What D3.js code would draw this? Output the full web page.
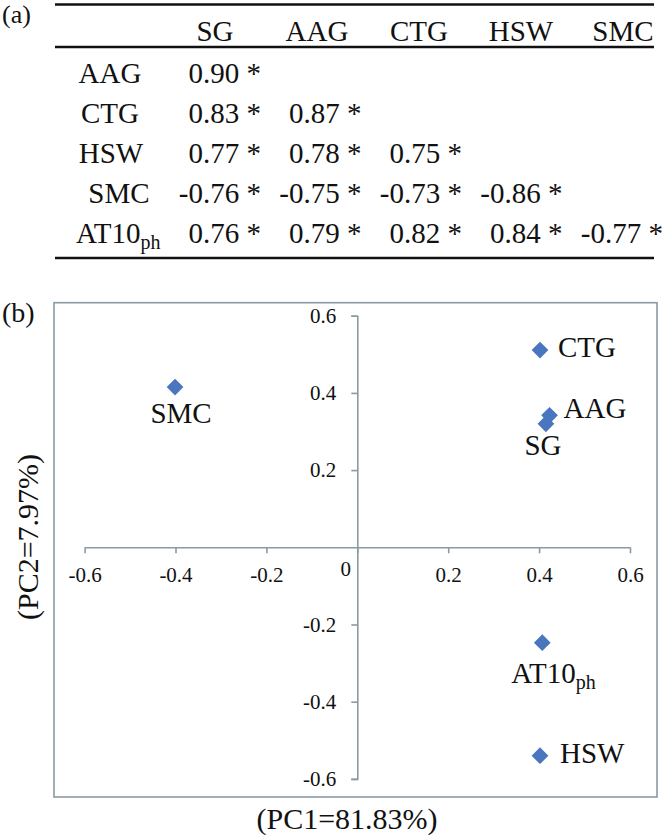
<!DOCTYPE html>
<html>
<head>
<meta charset="utf-8">
<script src="https://cdn.jsdelivr.net/npm/d3@7"></script>
<style>
  html, body { margin: 0; padding: 0; background: #fff; }
  svg { display: block; font-family: "Liberation Serif", "Times New Roman", serif; }
</style>
</head>
<body>
<svg id="chart" width="666" height="840"></svg>
<script>
// ---------- DATA ----------
const tableCols = ["SG", "AAG", "CTG", "HSW", "SMC"];
const tableRows = ["AAG", "CTG", "HSW", "SMC", "AT10ph"];
const corrRowAAG = [0.90];
const corrRowCTG = [0.83, 0.87];
const corrRowHSW = [0.77, 0.78, 0.75];
const corrRowSMC = [-0.76, -0.75, -0.73, -0.86];
const corrRowAT10 = [0.76, 0.79, 0.82, 0.84, -0.77];
const corrSig = "*";

const pointNames = ["SG", "AAG", "CTG", "HSW", "SMC", "AT10ph"];
const pc1Loadings = [0.415, 0.423, 0.402, 0.402, -0.401, 0.407];
const pc2Loadings = [0.320, 0.342, 0.511, -0.540, 0.415, -0.247];
const axisTicks = [-0.6, -0.4, -0.2, 0, 0.2, 0.4, 0.6];
const xTitle = "(PC1=81.83%)";
const yTitle = "(PC2=7.97%)";

// ---------- SETUP ----------
const svg = d3.select("#chart");
const corrMatrix = [corrRowAAG, corrRowCTG, corrRowHSW, corrRowSMC, corrRowAT10];
const TXT = "#111";
const AX = "#8a9aa2";
const BLUE = "#4a76bf";
const loc = d3.formatLocale({ decimal: ".", thousands: ",", grouping: [3], currency: ["", ""], minus: "-" });
const f2 = loc.format(".2f");
const f1 = loc.format(".1f");

function labelWithSub(sel, name, subSize) {
  const m = name.match(/^(AT10)(ph)$/);
  if (m) {
    sel.append("tspan").text(m[1]);
    sel.append("tspan").attr("font-size", subSize).attr("dy", 6).text(m[2]);
  } else {
    sel.text(name);
  }
}

// ---------- (a) TABLE ----------
const tab = svg.append("g");
tab.append("text").attr("x", 2).attr("y", 23).attr("font-size", 26).attr("fill", TXT).text("(a)");

const ruleX0 = 55, ruleX1 = 654;
[4.5, 47, 258].forEach(y => {
  tab.append("line").attr("x1", ruleX0).attr("x2", ruleX1).attr("y1", y).attr("y2", y)
    .attr("stroke", TXT).attr("stroke-width", 2.6);
});

const headX = d3.scalePoint().domain(tableCols).range([215, 623]);
const valX = d3.scalePoint().domain(tableCols).range([261, 663]);
const rowY = d3.scalePoint().domain(tableRows).range([83, 243]);
const FS = 29;

tab.selectAll("text.head").data(tableCols).join("text")
  .attr("class", "head")
  .attr("x", d => headX(d)).attr("y", 41)
  .attr("text-anchor", "middle").attr("font-size", FS).attr("fill", TXT)
  .text(d => d);

const rowLabelX = { AAG: 110, CTG: 110, HSW: 111, SMC: 119, AT10ph: 76 };
tableRows.forEach((r, i) => {
  const t = tab.append("text")
    .attr("x", rowLabelX[r]).attr("y", rowY(r))
    .attr("text-anchor", r === "AT10ph" ? "start" : "middle")
    .attr("font-size", FS).attr("fill", TXT);
  labelWithSub(t, r, 20);
  corrMatrix[i].forEach((v, j) => {
    tab.append("text")
      .attr("x", valX(tableCols[j])).attr("y", rowY(r))
      .attr("text-anchor", "end").attr("font-size", FS).attr("fill", TXT)
      .text(f2(v) + " " + corrSig);
  });
});

// ---------- (b) PCA LOADINGS ----------
svg.append("text").attr("x", 2).attr("y", 322).attr("font-size", 28).attr("fill", TXT).text("(b)");

const frame = { x0: 54, y0: 302.7, x1: 657, y1: 797 };
svg.append("rect")
  .attr("x", frame.x0).attr("y", frame.y0)
  .attr("width", frame.x1 - frame.x0).attr("height", frame.y1 - frame.y0)
  .attr("fill", "none").attr("stroke", AX).attr("stroke-width", 1.6);

const x = d3.scaleLinear().domain([-0.6, 0.6]).range([84.6, 630]);
const y = d3.scaleLinear().domain([-0.6, 0.6]).range([778.9, 315.7]);

const xAxis = d3.axisBottom(x).tickValues(axisTicks).tickSize(6).tickSizeOuter(0)
  .tickFormat(d => d === 0 ? "0" : f1(d));
const gx = svg.append("g").attr("transform", `translate(0,${y(0)})`).call(xAxis);
gx.select(".domain").attr("stroke", AX).attr("stroke-width", 1.6);
gx.selectAll(".tick line").attr("stroke", AX).attr("stroke-width", 1.6);
gx.selectAll(".tick text")
  .attr("font-family", "Liberation Serif, serif").attr("font-size", 21).attr("fill", TXT)
  .attr("y", 20)
  .attr("dx", d => d === 0 ? -12 : 0)
  .attr("dy", d => d === 0 ? "0.4em" : "0.71em");

const yAxis = d3.axisLeft(y).tickValues(axisTicks.filter(d => d !== 0)).tickSize(6).tickSizeOuter(6)
  .tickFormat(f1);
const gy = svg.append("g").attr("transform", `translate(${x(0)},0)`).call(yAxis);
gy.select(".domain").attr("stroke", AX).attr("stroke-width", 1.6);
gy.selectAll(".tick line").attr("stroke", AX).attr("stroke-width", 1.6);
gy.selectAll(".tick text")
  .attr("font-family", "Liberation Serif, serif").attr("font-size", 21).attr("fill", TXT)
  .attr("x", -21);

// points
const pts = pointNames.map((n, i) => ({ name: n, px: pc1Loadings[i], py: pc2Loadings[i] }));
const diamond = d3.symbol().type(d3.symbolSquare).size(140);
svg.append("g").selectAll("path").data(pts).join("path")
  .attr("d", diamond)
  .attr("transform", d => `translate(${x(d.px)},${y(d.py)}) rotate(45)`)
  .attr("fill", BLUE);

// label placement (style only)
const labelPlace = {
  SG:     { dx: -3,  dy: 31, anchor: "middle" },
  AAG:    { dx: 14,  dy: 3,  anchor: "start" },
  CTG:    { dx: 18,  dy: 7,  anchor: "start" },
  HSW:    { dx: 20,  dy: 7,  anchor: "start" },
  SMC:    { dx: 6,   dy: 36, anchor: "middle" },
  AT10ph: { dx: -31, dy: 40, anchor: "start" }
};
pts.forEach(d => {
  const p = labelPlace[d.name];
  const t = svg.append("text")
    .attr("x", x(d.px) + p.dx).attr("y", y(d.py) + p.dy)
    .attr("text-anchor", p.anchor).attr("font-size", 29).attr("fill", TXT);
  labelWithSub(t, d.name, 20);
});

// axis titles
svg.append("text").attr("x", 347).attr("y", 829).attr("text-anchor", "middle")
  .attr("font-size", 30).attr("fill", TXT).text(xTitle);
svg.append("text").attr("transform", "translate(38,537) rotate(-90)")
  .attr("text-anchor", "middle").attr("font-size", 30).attr("fill", TXT).text(yTitle);
</script>
</body>
</html>
